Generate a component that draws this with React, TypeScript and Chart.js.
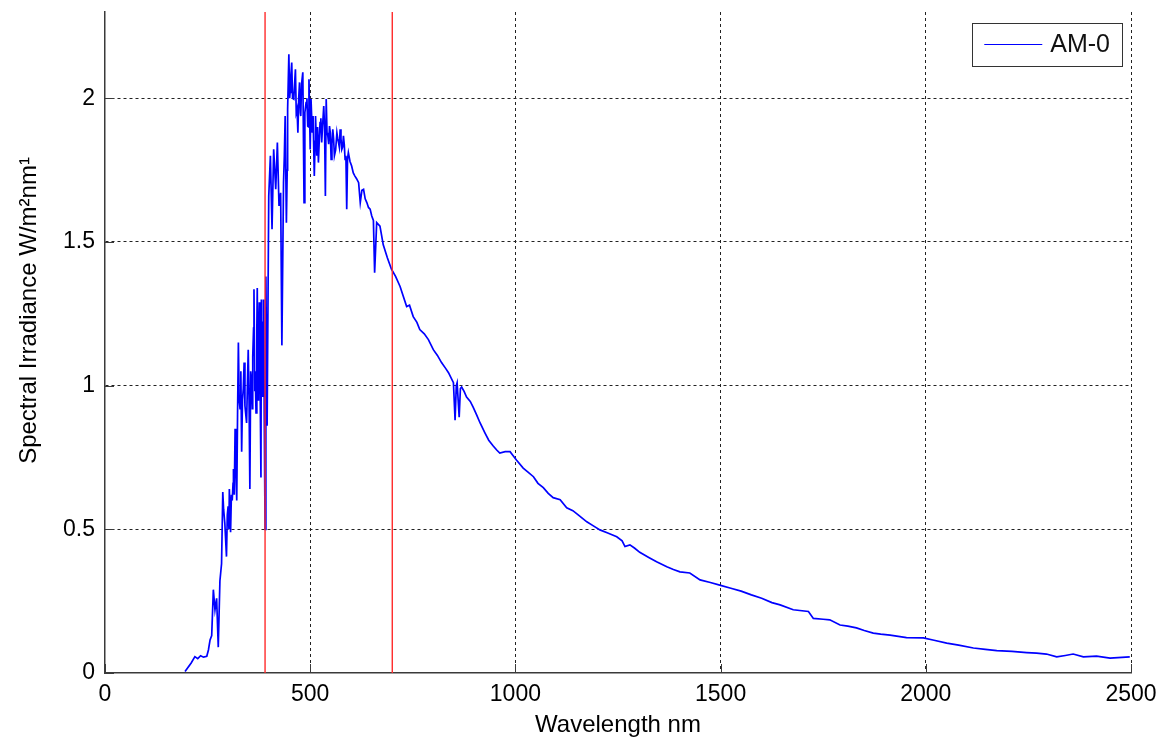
import React, { useEffect, useRef } from "react";
import { Chart, registerables } from "chart.js";

Chart.register(...registerables);

// Wavelength (nm) and AM-0 spectral irradiance (W/m^2/nm)
const wavelengths = [
  195, 210, 219, 226, 233, 240, 248, 252, 256, 260,
  264, 268, 272, 276, 280, 284, 287, 289, 292, 296,
  298, 300, 302, 303, 305, 306, 308, 310, 312, 313,
  315, 317, 319, 321, 323, 325, 327, 329, 331, 333,
  335, 337, 339, 341, 343, 345, 347, 349, 351, 353,
  355, 357, 359, 360, 362, 363, 365, 366, 368, 370,
  371, 373, 374, 376, 377, 378, 380, 381, 382, 384,
  386, 387, 388, 390, 392, 395, 399, 403, 407, 411,
  416, 420, 424, 428, 431, 435, 437, 439, 442, 444,
  445, 448, 450, 451, 453, 455, 457, 460, 462, 464,
  466, 468, 470, 472, 474, 476, 477, 479, 482, 485,
  487, 490, 492, 494, 496, 497, 500, 502, 505, 507,
  510, 512, 513, 516, 518, 520, 522, 524, 526, 528,
  530, 533, 535, 537, 539, 541, 543, 545, 547, 549,
  551, 553, 555, 557, 559, 562, 565, 567, 569, 571,
  573, 575, 577, 579, 581, 583, 585, 587, 589, 591,
  593, 597, 601, 605, 609, 613, 618, 622, 626, 630,
  634, 638, 642, 646, 650, 654, 657, 662, 670, 678,
  688, 698, 708, 719, 735, 742, 751, 760, 767, 778,
  788, 800, 810, 820, 830, 837, 849, 853, 856, 858,
  863, 866, 869, 875, 881, 890, 897, 905, 914, 926,
  935, 946, 955, 962, 975, 987, 995, 1003, 1019, 1030,
  1044, 1055, 1068, 1080, 1092, 1109, 1125, 1140, 1153, 1174,
  1190, 1206, 1225, 1247, 1260, 1267, 1279, 1290, 1303, 1325,
  1344, 1369, 1385, 1401, 1425, 1450, 1475, 1500, 1525, 1550,
  1575, 1600, 1625, 1645, 1677, 1714, 1726, 1750, 1766, 1791,
  1810, 1831, 1850, 1872, 1890, 1913, 1953, 1994, 2020, 2051,
  2080, 2116, 2145, 2173, 2210, 2246, 2270, 2294, 2319, 2340,
  2359, 2384, 2416, 2449, 2497,
];

const irradiance = [
  0.005, 0.035, 0.057, 0.05, 0.06, 0.055, 0.058, 0.08, 0.115, 0.13,
  0.29, 0.22, 0.26, 0.09, 0.32, 0.38, 0.63, 0.57, 0.52, 0.405,
  0.55, 0.58, 0.5, 0.64, 0.55, 0.49, 0.62, 0.6, 0.66, 0.71,
  0.62, 0.85, 0.72, 0.6, 0.9, 1.15, 0.95, 0.92, 1.05, 0.77,
  0.95, 0.99, 1.08, 0.93, 0.9, 0.87, 1.0, 1.125, 0.95, 0.64,
  1.05, 1.02, 0.92, 1.1, 1.2, 1.335, 0.98, 1.05, 0.905, 1.2,
  1.34, 0.95, 1.12, 1.29, 1.1, 1.0, 0.68, 1.3, 1.2, 0.96,
  1.22, 1.3, 0.9, 0.5, 1.38, 0.86, 1.66, 1.8, 1.544, 1.822,
  1.683, 1.846, 1.625, 1.671, 1.14, 1.706, 1.8, 1.938, 1.567, 1.75,
  1.962, 2.153, 2.0, 2.02, 2.08, 2.124, 2.0, 1.997, 2.05, 2.101,
  1.95, 1.962, 1.88, 2.0, 2.055, 1.95, 1.938, 2.05, 2.09, 1.637,
  1.95, 1.985, 2.0, 1.903, 1.9, 2.066, 1.822, 1.997, 1.88, 1.938,
  1.729, 1.85, 1.938, 1.8, 1.9, 1.776, 1.85, 1.915, 1.93, 1.846,
  1.9, 1.973, 1.9, 1.66, 1.997, 1.88, 1.869, 1.84, 1.903, 1.88,
  1.787, 1.84, 1.892, 1.86, 1.8, 1.82, 1.88, 1.86, 1.846, 1.83,
  1.892, 1.86, 1.822, 1.83, 1.869, 1.84, 1.787, 1.8, 1.614, 1.79,
  1.811, 1.78, 1.764, 1.74, 1.729, 1.72, 1.706, 1.637, 1.68, 1.683,
  1.65, 1.637, 1.62, 1.614, 1.59, 1.575, 1.393, 1.567, 1.555, 1.49,
  1.445, 1.405, 1.38, 1.345, 1.275, 1.28, 1.24, 1.22, 1.195, 1.18,
  1.16, 1.125, 1.105, 1.08, 1.06, 1.045, 1.01, 0.88, 1.0, 1.01,
  0.89, 0.99, 0.995, 0.98, 0.96, 0.945, 0.925, 0.9, 0.87, 0.835,
  0.81, 0.79, 0.775, 0.765, 0.77, 0.77, 0.755, 0.74, 0.713, 0.7,
  0.683, 0.66, 0.645, 0.625, 0.61, 0.603, 0.575, 0.565, 0.55, 0.526,
  0.512, 0.498, 0.487, 0.474, 0.46, 0.44, 0.446, 0.435, 0.42, 0.402,
  0.387, 0.37, 0.36, 0.352, 0.348, 0.324, 0.315, 0.305, 0.295, 0.285,
  0.272, 0.26, 0.245, 0.237, 0.22, 0.214, 0.19, 0.187, 0.185, 0.167,
  0.163, 0.157, 0.148, 0.139, 0.135, 0.132, 0.123, 0.122, 0.114, 0.104,
  0.097, 0.087, 0.082, 0.078, 0.075, 0.071, 0.069, 0.066, 0.056, 0.061,
  0.066, 0.056, 0.059, 0.052, 0.056,
];

// Visible band limits (red vertical markers)
const markerWavelengths = [390, 700];

const xTicks = [0, 500, 1000, 1500, 2000, 2500];
const yTicks = [0, 0.5, 1, 1.5, 2];
const xRange = [0, 2500];
const yRange = [0, 2.3];

const seriesLabel = "AM-0";
const xTitle = "Wavelength nm";
const yTitle = "Spectral Irradiance W/m\u00B2nm\u00B9";

const FONT = "'Liberation Sans', Arial, Helvetica, sans-serif";
const AXIS_COLOR = "#3a3a3a";
const GRID_COLOR = "#222222";

const insideTicksPlugin = {
  id: "insideTicks",
  afterDraw(chart: any) {
    const { ctx, chartArea, scales } = chart;
    const len = 9;
    ctx.save();
    ctx.strokeStyle = AXIS_COLOR;
    ctx.lineWidth = 1;
    ctx.setLineDash([]);
    ctx.beginPath();
    xTicks.forEach((v) => {
      const px = Math.round(scales.x.getPixelForValue(v)) + 0.5;
      ctx.moveTo(px, chartArea.bottom);
      ctx.lineTo(px, chartArea.bottom - len);
    });
    yTicks.forEach((v) => {
      const py = Math.round(scales.y.getPixelForValue(v)) + 0.5;
      ctx.moveTo(chartArea.left, py);
      ctx.lineTo(chartArea.left + len, py);
    });
    ctx.stroke();
    ctx.restore();
  },
};

// Y axis title, drawn a little above the plot centre as in the original figure
const yTitlePlugin = {
  id: "yTitle",
  afterDraw(chart: any) {
    const { ctx, chartArea } = chart;
    ctx.save();
    ctx.font = `24px ${FONT}`;
    ctx.fillStyle = "#000";
    ctx.textAlign = "center";
    ctx.textBaseline = "middle";
    ctx.translate(29, (chartArea.top + chartArea.bottom) / 2 - 32);
    ctx.rotate(-Math.PI / 2);
    ctx.fillText(yTitle, 0, 0);
    ctx.restore();
  },
};

const boxedLegendPlugin = {
  id: "boxedLegend",
  afterDraw(chart: any) {
    const { ctx, chartArea } = chart;
    const ds = chart.data.datasets.find((d: any) => d.label === seriesLabel);
    if (!ds) return;
    ctx.save();
    ctx.font = `25px ${FONT}`;
    const textW = ctx.measureText(ds.label).width;
    const padL = 12, lineW = 58, gap = 8, padR = 12, h = 43;
    const w = padL + lineW + gap + textW + padR;
    const right = chartArea.right - 9;
    const top = chartArea.top + 11;
    const left = right - w;
    ctx.fillStyle = "#ffffff";
    ctx.fillRect(left, top, w, h);
    ctx.strokeStyle = "#333333";
    ctx.lineWidth = 1;
    ctx.strokeRect(Math.round(left) + 0.5, Math.round(top) + 0.5, Math.round(w), h);
    const cy = top + h / 2;
    ctx.strokeStyle = ds.borderColor;
    ctx.lineWidth = 1.2;
    ctx.beginPath();
    ctx.moveTo(left + padL, cy);
    ctx.lineTo(left + padL + lineW, cy);
    ctx.stroke();
    ctx.fillStyle = "#111111";
    ctx.textBaseline = "middle";
    ctx.textAlign = "left";
    ctx.fillText(ds.label, left + padL + lineW + gap, cy + 1);
    ctx.restore();
  },
};

export default function App() {
  const canvasRef = useRef<HTMLCanvasElement | null>(null);

  useEffect(() => {
    document.body.style.margin = "0";
    const canvas = canvasRef.current;
    if (!canvas) return;

    const spectrum = wavelengths.map((x, i) => ({ x, y: irradiance[i] }));
    const markerSets = markerWavelengths.map((w) => ({
      label: `marker-${w}`,
      data: [
        { x: w, y: yRange[0] },
        { x: w, y: yRange[1] },
      ],
      borderColor: "#ff2a2a",
      borderWidth: 1.4,
      pointRadius: 0,
      order: 0,
    }));

    const chart = new Chart(canvas, {
      type: "line",
      data: {
        datasets: [
          ...markerSets,
          {
            label: seriesLabel,
            data: spectrum,
            borderColor: "#0000ff",
            borderWidth: 1.7,
            pointRadius: 0,
            tension: 0,
            order: 1,
          },
        ],
      },
      options: {
        responsive: false,
        animation: false,
        layout: { padding: { top: 12, right: 35, left: 0, bottom: 0 } },
        plugins: {
          legend: { display: false },
          tooltip: { enabled: false },
        },
        scales: {
          x: {
            type: "linear",
            min: xRange[0],
            max: xRange[1],
            afterFit: (s: any) => {
              s.height = 70;
              s.paddingLeft = 0;
              s.paddingRight = 0;
            },
            afterBuildTicks: (s: any) => {
              s.ticks = xTicks.map((v) => ({ value: v }));
            },
            ticks: {
              padding: 8,
              color: "#000",
              font: { family: FONT, size: 23 },
              maxRotation: 0,
              autoSkip: false,
              callback: (v: any) => String(v),
            },
            grid: {
              drawTicks: false,
              color: (c: any) => (c.tick && c.tick.value === xRange[0] ? "rgba(0,0,0,0)" : GRID_COLOR),
              lineWidth: 1,
            },
            border: { display: true, color: AXIS_COLOR, width: 1.5, dash: [3, 3] },
            title: {
              display: true,
              text: xTitle,
              color: "#000",
              font: { family: FONT, size: 24 },
              padding: { top: 0, bottom: 3 },
            },
          },
          y: {
            type: "linear",
            min: yRange[0],
            max: yRange[1],
            afterFit: (s: any) => {
              s.width = 105;
              s.paddingTop = 0;
              s.paddingBottom = 0;
            },
            afterBuildTicks: (s: any) => {
              s.ticks = yTicks.map((v) => ({ value: v }));
            },
            ticks: {
              padding: 10,
              color: "#000",
              font: { family: FONT, size: 23 },
              callback: (v: any) => String(v),
            },
            grid: {
              drawTicks: false,
              color: (c: any) => (c.tick && c.tick.value === yRange[0] ? "rgba(0,0,0,0)" : GRID_COLOR),
              lineWidth: 1,
            },
            border: { display: true, color: AXIS_COLOR, width: 1.5, dash: [3, 3] },
            title: { display: false },
          },
        },
      },
      plugins: [insideTicksPlugin, yTitlePlugin, boxedLegendPlugin],
    } as any);

    return () => chart.destroy();
  }, []);

  return (
    <div style={{ width: 1166, height: 743, background: "#fff" }}>
      <canvas ref={canvasRef} width={1166} height={743} style={{ display: "block" }} />
    </div>
  );
}
